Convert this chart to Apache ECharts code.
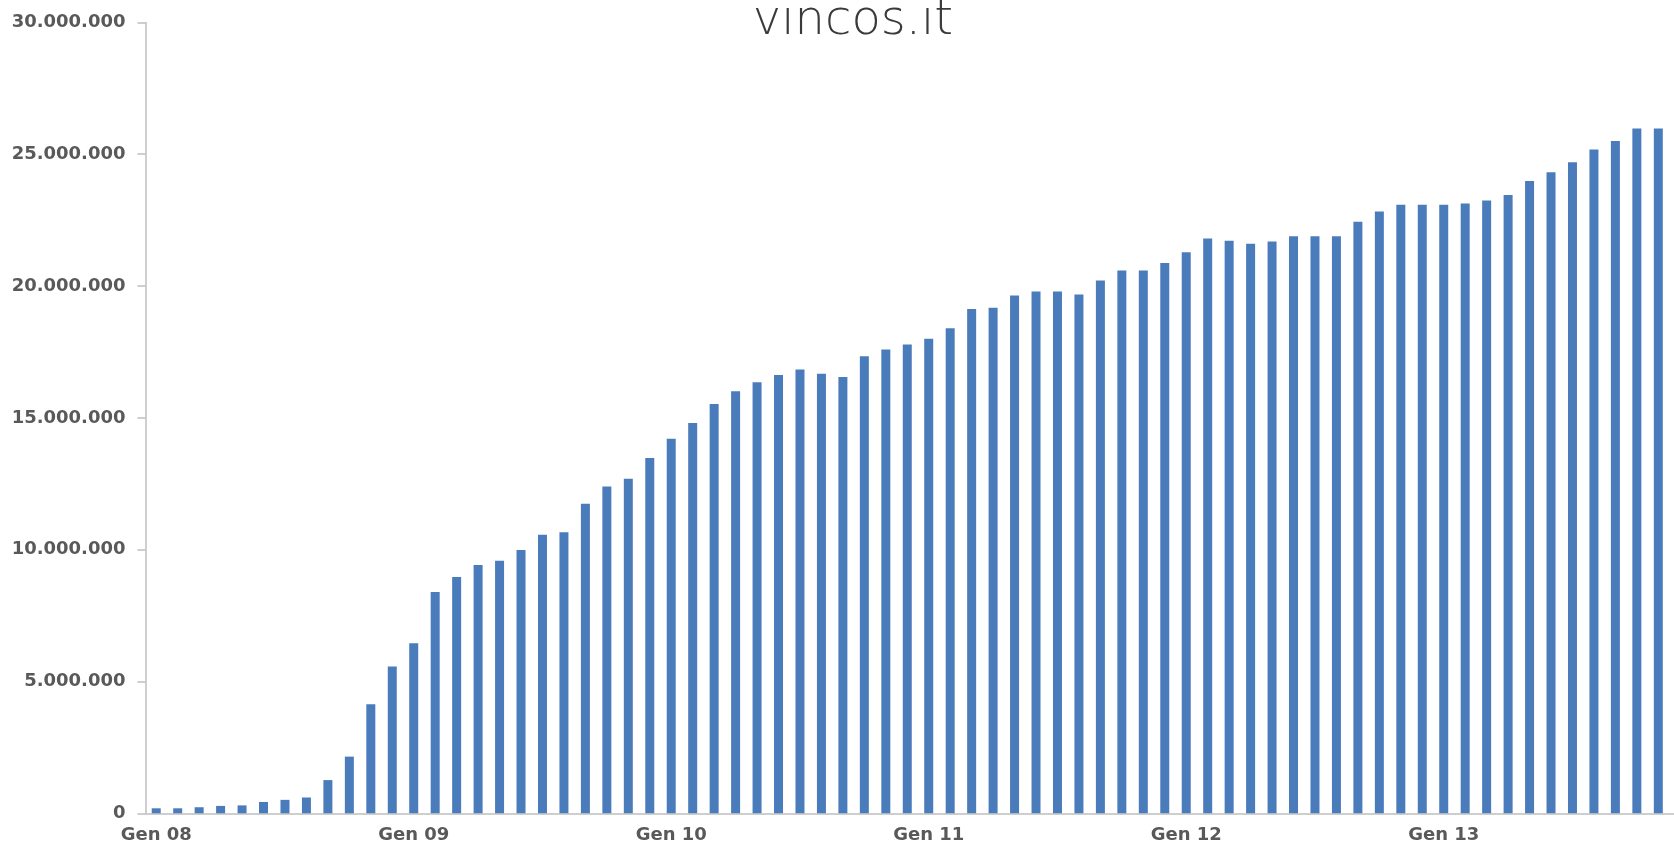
<!DOCTYPE html>
<html>
<head>
<meta charset="utf-8">
<script src="https://cdn.jsdelivr.net/npm/echarts@6/dist/echarts.min.js"></script>
<style>
html,body{margin:0;padding:0;background:#fff;overflow:hidden;}
#chart{width:1674px;height:846px;}
</style>
</head>
<body>
<div id="chart"></div>
<script>
const titleText = 'vincos.it';
const months = ['Gen','Feb','Mar','Apr','Mag','Giu','Lug','Ago','Set','Ott','Nov','Dic'];
const years = ['08','09','10','11','12','13'];
const categories = [];
years.forEach(y => months.forEach(m => categories.push(m + ' ' + y)));

const values = [
  190000, 190000, 230000, 280000, 300000, 430000, 510000, 600000, 1260000, 2150000, 4140000, 5570000,
  6450000, 8390000, 8960000, 9420000, 9580000, 9990000, 10570000, 10660000, 11740000, 12400000, 12690000, 13480000,
  14210000, 14800000, 15530000, 16010000, 16350000, 16630000, 16830000, 16670000, 16550000, 17340000, 17590000, 17780000,
  18000000, 18400000, 19130000, 19180000, 19640000, 19790000, 19790000, 19680000, 20210000, 20590000, 20590000, 20870000,
  21280000, 21800000, 21720000, 21600000, 21690000, 21890000, 21890000, 21890000, 22440000, 22830000, 23080000, 23080000,
  23080000, 23130000, 23240000, 23450000, 23980000, 24320000, 24700000, 25180000, 25500000, 25980000, 25980000, 26200000
];

const yMin = 0, yMax = 30000000, yStep = 5000000;

function fmt(v) {
  return String(v).replace(/\B(?=(\d{3})+(?!\d))/g, '.');
}

const chart = echarts.init(document.getElementById('chart'), null, {renderer: 'canvas'});
chart.setOption({
  animation: false,
  backgroundColor: '#ffffff',
  title: {
    text: titleText,
    left: 848,
    textAlign: 'center',
    top: -7,
    textStyle: {
      fontFamily: 'DejaVu Sans',
      fontWeight: 200,
      fontSize: 48,
      color: '#3a3a3a'
    }
  },
  grid: {
    left: 145.5,
    width: 1545,
    top: 22.4,
    bottom: 32.7,
    containLabel: false,
    outerBoundsMode: 'none'
  },
  xAxis: {
    type: 'category',
    data: categories,
    boundaryGap: true,
    axisLine: {show: true, lineStyle: {color: '#bfbfbf', width: 1.5}},
    axisTick: {show: false},
    splitLine: {show: false},
    axisLabel: {
      interval: 11,
      margin: 13,
      fontFamily: 'DejaVu Sans',
      fontWeight: 'bold',
      fontSize: 18,
      color: '#595959'
    }
  },
  yAxis: {
    type: 'value',
    min: yMin,
    max: yMax,
    interval: yStep,
    axisLine: {show: true, lineStyle: {color: '#bfbfbf', width: 1.5}},
    axisTick: {show: true, length: 8, lineStyle: {color: '#bfbfbf', width: 1.5}},
    splitLine: {show: false},
    axisLabel: {
      margin: 20,
      formatter: fmt,
      fontFamily: 'DejaVu Sans',
      fontWeight: 'bold',
      fontSize: 18,
      color: '#595959'
    }
  },
  series: [{
    type: 'bar',
    data: values,
    barWidth: 9,
    itemStyle: {color: '#4a7cbc'}
  }]
});
</script>
</body>
</html>
